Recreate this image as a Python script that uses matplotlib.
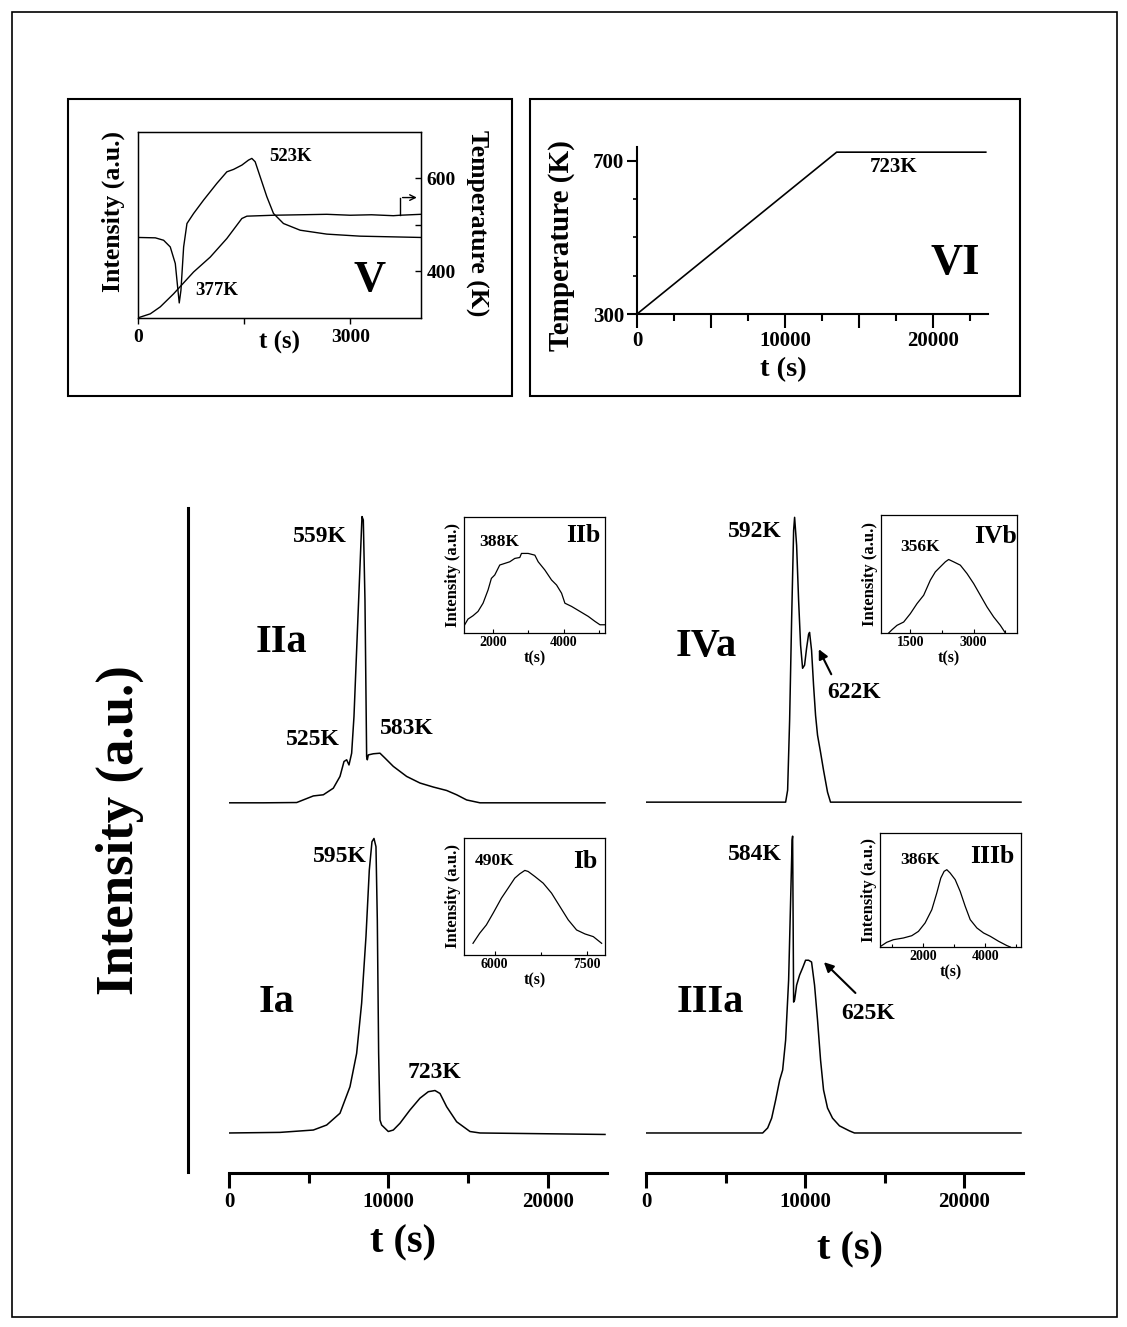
import numpy as np
import matplotlib
matplotlib.use('Agg')
import matplotlib.pyplot as plt
from matplotlib.patches import Rectangle
from matplotlib.lines import Line2D
from matplotlib.ticker import MultipleLocator, FixedLocator

plt.rcParams['font.family'] = ['Liberation Serif', 'DejaVu Serif']
plt.rcParams['font.weight'] = 'bold'
plt.rcParams['axes.labelweight'] = 'bold'

# ---- panel V: intensity (a.u.) and temperature vs time ----
v_t_int = [0, 245, 362, 456, 527, 560, 583, 607, 645, 692, 786, 927, 1115, 1256,
           1351, 1468, 1562, 1609, 1656, 1727, 1821, 1915, 2056, 2292, 2668, 3139, 4000]
v_int = [0.433, 0.431, 0.418, 0.382, 0.293, 0.167, 0.081, 0.149, 0.382, 0.508, 0.562,
         0.634, 0.724, 0.786, 0.799, 0.822, 0.849, 0.858, 0.840, 0.759, 0.652, 0.562,
         0.508, 0.472, 0.451, 0.440, 0.433]
v_t_temp = [0, 33, 174, 315, 503, 786, 1021, 1256, 1468, 1539, 1915, 2300, 2668,
            3000, 3300, 3609, 3704, 4000]
v_temp = [300, 302, 309, 324, 352, 399, 431, 471, 514, 519, 521, 522, 523,
          521, 522, 520, 521, 523]

# ---- panel VI: heating programme ----
vi_t = [0, 13480, 23550]
vi_temp = [300, 723, 723]

# ---- main TPD traces (normalised intensity) ----
IIa_t = [0, 2152, 4243, 5288, 5914, 6541, 6959, 7210, 7377, 7523, 7690, 7836, 8003,
         8212, 8338, 8421, 8525, 8630, 8672, 8735, 9048, 9466, 9780, 10302, 11138,
         11974, 12810, 13646, 14273, 14900, 15736, 23575]
IIa_i = [0, 0, 0.001, 0.024, 0.028, 0.051, 0.092, 0.144, 0.150, 0.132, 0.173, 0.301,
         0.533, 0.823, 0.998, 0.986, 0.707, 0.161, 0.150, 0.167, 0.171, 0.173, 0.156,
         0.127, 0.092, 0.069, 0.055, 0.043, 0.028, 0.010, 0, 0]

Ia_t = [0, 3197, 5288, 6124, 6959, 7586, 8003, 8316, 8588, 8797, 8964, 9090, 9215,
        9299, 9382, 9466, 9570, 9779, 9988, 10302, 10720, 11347, 11974, 12496, 12914,
        13228, 13646, 14273, 15109, 15736, 23575]
Ia_i = [0, 0.002, 0.010, 0.027, 0.067, 0.157, 0.270, 0.440, 0.666, 0.892, 0.988,
        0.999, 0.971, 0.722, 0.270, 0.044, 0.027, 0.016, 0.005, 0.010, 0.033, 0.078,
        0.118, 0.140, 0.144, 0.134, 0.089, 0.038, 0.005, 0, -0.005]

IVa_t = [0, 8778, 8903, 9029, 9154, 9280, 9342, 9468, 9593, 9718, 9844, 9969, 10094,
         10220, 10283, 10408, 10533, 10659, 10784, 10973, 11161, 11412, 11600, 23575]
IVa_i = [0, 0, 0.042, 0.288, 0.639, 0.954, 1.0, 0.902, 0.709, 0.551, 0.470, 0.481,
         0.540, 0.589, 0.596, 0.533, 0.411, 0.305, 0.235, 0.175, 0.112, 0.035, 0, 0]

IIIa_t = [0, 7335, 7649, 7900, 8151, 8402, 8590, 8778, 8966, 9092, 9185, 9217, 9280,
          9342, 9468, 9656, 9844, 10032, 10220, 10408, 10596, 10784, 10973, 11161,
          11412, 11725, 12164, 12791, 13105, 23575]
IIIa_i = [0, 0, 0.017, 0.050, 0.111, 0.178, 0.212, 0.313, 0.515, 0.785, 0.987, 1.0,
          0.441, 0.448, 0.498, 0.532, 0.556, 0.582, 0.582, 0.576, 0.498, 0.380, 0.246,
          0.145, 0.084, 0.050, 0.024, 0.007, 0, 0]

# ---- low temperature insets ----
IIb_t = [1199, 1293, 1435, 1576, 1718, 1859, 1953, 2048, 2189, 2331, 2472, 2614, 2755,
         2802, 2991, 3180, 3274, 3462, 3651, 3792, 3934, 4028, 4217, 4453, 4688, 4877,
         5018, 5160]
IIb_i = [0.071, 0.12, 0.149, 0.186, 0.257, 0.371, 0.471, 0.5, 0.586, 0.6, 0.614, 0.643,
         0.651, 0.686, 0.686, 0.671, 0.614, 0.543, 0.457, 0.414, 0.343, 0.257, 0.229,
         0.186, 0.143, 0.1, 0.071, 0.071]

IVb_t = [988, 1067, 1185, 1343, 1501, 1659, 1817, 1975, 2093, 2212, 2330, 2409, 2527,
         2685, 2843, 3001, 3159, 3317, 3475, 3633, 3752]
IVb_i = [0, 0.028, 0.065, 0.093, 0.164, 0.249, 0.32, 0.448, 0.518, 0.561, 0.603, 0.623,
         0.603, 0.575, 0.504, 0.419, 0.32, 0.221, 0.136, 0.065, 0]

Ib_t = [5645, 5754, 5863, 5973, 6109, 6218, 6327, 6409, 6491, 6545, 6655, 6791, 6927,
        7064, 7200, 7336, 7473, 7609, 7745]
Ib_i = [0.1, 0.186, 0.257, 0.357, 0.486, 0.571, 0.657, 0.694, 0.723, 0.714, 0.671,
        0.614, 0.529, 0.414, 0.3, 0.214, 0.18, 0.157, 0.1]

IIIb_t = [651, 844, 1058, 1379, 1647, 1861, 2075, 2289, 2449, 2577, 2684, 2770, 2877,
          3038, 3198, 3359, 3519, 3733, 3947, 4161, 4429, 4696, 4803]
IIIb_i = [0.006, 0.041, 0.064, 0.079, 0.099, 0.137, 0.211, 0.327, 0.474, 0.605, 0.664,
          0.678, 0.649, 0.591, 0.488, 0.357, 0.24, 0.167, 0.123, 0.094, 0.05, 0.012, 0]

W, H = 1127, 1327
fig = plt.figure(figsize=(W / 100, H / 100), dpi=100)


def px_axes(x0, y0, x1, y1):
    return fig.add_axes([x0 / W, 1 - y1 / H, (x1 - x0) / W, (y1 - y0) / H])


def px_box(x0, y0, x1, y1, lw=1.5):
    fig.add_artist(Rectangle((x0 / W, 1 - y1 / H), (x1 - x0) / W, (y1 - y0) / H,
                             transform=fig.transFigure, fill=False, lw=lw, color='k'))


# frames
px_box(12, 12, 1117, 1317, lw=1.2)
px_box(68, 99, 512, 396)
px_box(530, 99, 1020, 396)

# ---- panel V ----
ax = px_axes(138, 132, 421, 318)
ax.plot(v_t_int, v_int, color='k', lw=1.0)
ax.set_xlim(0, 4000)
ax.set_ylim(0, 1)
ax.set_yticks([])
ax.xaxis.set_major_locator(FixedLocator([0, 3000]))
ax.xaxis.set_minor_locator(FixedLocator([1500]))
ax.tick_params(axis='x', which='both', direction='out', length=4, width=1,
               labelsize=14, pad=4)
for s in ax.spines.values():
    s.set_linewidth(1.0)
ax.set_ylabel('Intensity (a.u.)', fontsize=18.5, va='center', ha='center')
ax.yaxis.set_label_coords(-0.088, 0.57)
ax.text(0.5, -0.13, 't (s)', transform=ax.transAxes, ha='center', va='center',
        fontsize=18)
ax.text(2151, 0.867, '523K', ha='center', va='center', fontsize=13.5)
ax.text(1115, 0.149, '377K', ha='center', va='center', fontsize=13.5)
ax.text(3280, 0.205, 'V', ha='center', va='center', fontsize=32)

ax2 = ax.twinx()
ax2.plot(v_t_temp, v_temp, color='k', lw=1.0)
ax2.set_ylim(300, 700)
ax2.yaxis.set_major_locator(FixedLocator([400, 600]))
ax2.yaxis.set_minor_locator(FixedLocator([500]))
ax2.tick_params(axis='y', which='both', direction='in', length=4, width=1,
                labelsize=14, pad=4)
ax2.set_ylabel('Temperature (K)', fontsize=18.5, rotation=270, va='center', ha='center')
ax2.yaxis.set_label_coords(1.198, 0.51)
# marker showing which curve belongs to the right axis
ax2.plot([3704, 3704], [521, 559], color='k', lw=1.0)
ax2.annotate('', xy=(3980, 559), xytext=(3700, 559),
             arrowprops=dict(arrowstyle='->', lw=1.0, color='k'))

# ---- panel VI ----
ax = px_axes(637, 147, 988, 314)
ax.plot(vi_t, vi_temp, color='k', lw=1.2)
ax.set_xlim(0, 23700)
ax.set_ylim(300, 736.5)
ax.spines['top'].set_visible(False)
ax.spines['right'].set_visible(False)
for s in ('left', 'bottom'):
    ax.spines[s].set_linewidth(1.5)
ax.xaxis.set_major_locator(MultipleLocator(5000))
ax.xaxis.set_minor_locator(MultipleLocator(2500))
ax.xaxis.set_major_formatter(lambda v, p: f'{v:.0f}' if v % 10000 == 0 else '')
ax.yaxis.set_major_locator(FixedLocator([300, 700]))
ax.yaxis.set_minor_locator(FixedLocator([400, 500, 600]))
ax.tick_params(axis='x', which='major', direction='out', length=10, width=1.5,
               labelsize=15, pad=2)
ax.tick_params(axis='x', which='minor', direction='out', length=5, width=1.5)
ax.tick_params(axis='y', which='major', direction='out', length=7, width=1.5,
               labelsize=15, pad=2)
ax.tick_params(axis='y', which='minor', direction='out', length=3, width=1.2)
ax.set_ylabel('Temperature (K)', fontsize=21, va='center', ha='center')
ax.yaxis.set_label_coords(-0.215, 0.41)
ax.text(0.416, -0.335, 't (s)', transform=ax.transAxes, ha='center', va='center',
        fontsize=20.5)
ax.text(17300, 684, '723K', ha='center', va='center', fontsize=15)
ax.text(21460, 433, 'VI', ha='center', va='center', fontsize=32)


# ---- main panels ----
def main_panel(x0, x1):
    a = px_axes(x0, 506, x1, 1173)
    a.set_xlim(0, 23700)
    a.set_ylim(0, 1)
    a.patch.set_visible(False)
    for s in ('left', 'top', 'right'):
        a.spines[s].set_visible(False)
    a.spines['bottom'].set_linewidth(2.2)
    a.set_yticks([])
    a.xaxis.set_major_locator(MultipleLocator(10000))
    a.xaxis.set_minor_locator(MultipleLocator(5000))
    a.tick_params(axis='x', which='major', direction='out', length=11, width=2.2,
                  labelsize=15, pad=3)
    a.tick_params(axis='x', which='minor', direction='out', length=7, width=2.2)
    return a


axL = main_panel(229, 607)
axL.plot(IIa_t, 0.555 + 0.43 * np.array(IIa_i), color='k', lw=1.1)
axL.plot(Ia_t, 0.06 + 0.442 * np.array(Ia_i), color='k', lw=1.1)
axL.text(5705, 0.954, '559K', ha='center', va='center', fontsize=17)
axL.text(5285, 0.650, '525K', ha='center', va='center', fontsize=17)
axL.text(11141, 0.667, '583K', ha='center', va='center', fontsize=17)
axL.text(3304, 0.796, 'IIa', ha='center', va='center', fontsize=29)
axL.text(6959, 0.474, '595K', ha='center', va='center', fontsize=17)
axL.text(12915, 0.150, '723K', ha='center', va='center', fontsize=17)
axL.text(2989, 0.255, 'Ia', ha='center', va='center', fontsize=29)

axR = main_panel(646, 1023)
axR.plot(IVa_t, 0.556 + 0.427 * np.array(IVa_i), color='k', lw=1.1)
axR.plot(IIIa_t, 0.06 + 0.445 * np.array(IIIa_i), color='k', lw=1.1)
axR.text(6834, 0.962, '592K', ha='center', va='center', fontsize=17)
axR.text(13104, 0.721, '622K', ha='center', va='center', fontsize=17)
axR.annotate('', xy=(10784, 0.789), xytext=(11725, 0.744),
             arrowprops=dict(arrowstyle='-|>', lw=1.5, color='k', mutation_scale=14))
axR.text(3804, 0.789, 'IVa', ha='center', va='center', fontsize=29)
axR.text(6834, 0.477, '584K', ha='center', va='center', fontsize=17)
axR.text(13939, 0.239, '625K', ha='center', va='center', fontsize=17)
axR.annotate('', xy=(11060, 0.319), xytext=(13290, 0.267),
             arrowprops=dict(arrowstyle='-|>', lw=1.5, color='k', mutation_scale=14))
axR.text(4013, 0.255, 'IIIa', ha='center', va='center', fontsize=29)

fig.text(403 / W, 1 - 1243 / H, 't (s)', ha='center', va='center', fontsize=29)
fig.text(850 / W, 1 - 1250 / H, 't (s)', ha='center', va='center', fontsize=29)
fig.text(120 / W, 1 - 830 / H, 'Intensity (a.u.)', rotation=90, ha='center',
         va='center', fontsize=38)
fig.add_artist(Line2D([188 / W, 188 / W], [1 - 508 / H, 1 - 1172 / H], lw=2.2,
                      color='k'))


# ---- insets ----
def inset(box, t, i, xlim, major, minor, peak, peak_xy, name, name_xy):
    a = px_axes(*box)
    a.plot(t, i, color='k', lw=0.9)
    a.set_xlim(*xlim)
    a.set_ylim(0, 1)
    a.set_yticks([])
    a.xaxis.set_major_locator(MultipleLocator(major))
    a.xaxis.set_minor_locator(MultipleLocator(minor))
    a.tick_params(axis='x', which='major', direction='in', length=3, width=0.8,
                  labelsize=10, pad=2)
    a.tick_params(axis='x', which='minor', direction='in', length=2, width=0.8)
    for s in a.spines.values():
        s.set_linewidth(0.9)
    a.set_xlabel('t(s)', fontsize=11.5, labelpad=1)
    a.set_ylabel('Intensity (a.u.)', fontsize=12, labelpad=2)
    a.text(*peak_xy, peak, ha='center', va='center', fontsize=12.5)
    a.text(*name_xy, name, ha='center', va='center', fontsize=18.5)
    return a


inset((464, 517, 605, 633), IIb_t, IIb_i, (1180, 5160), 2000, 1000,
      '388K', (2189, 0.786), 'IIb', (4547, 0.843))
inset((881, 515, 1017, 633), IVb_t, IVb_i, (806, 4028), 1500, 750,
      '356K', (1738, 0.725), 'IVb', (3515, 0.816))
inset((464, 838, 605, 955), Ib_t, Ib_i, (5498, 7800), 1500, 750,
      '490K', (5999, 0.806), 'Ib', (7473, 0.8))
inset((880, 833, 1021, 947), IIIb_t, IIIb_i, (630, 5146), 2000, 1000,
      '386K', (1914, 0.766), 'IIIb', (4215, 0.795))

fig.savefig('out.png', dpi=100)
